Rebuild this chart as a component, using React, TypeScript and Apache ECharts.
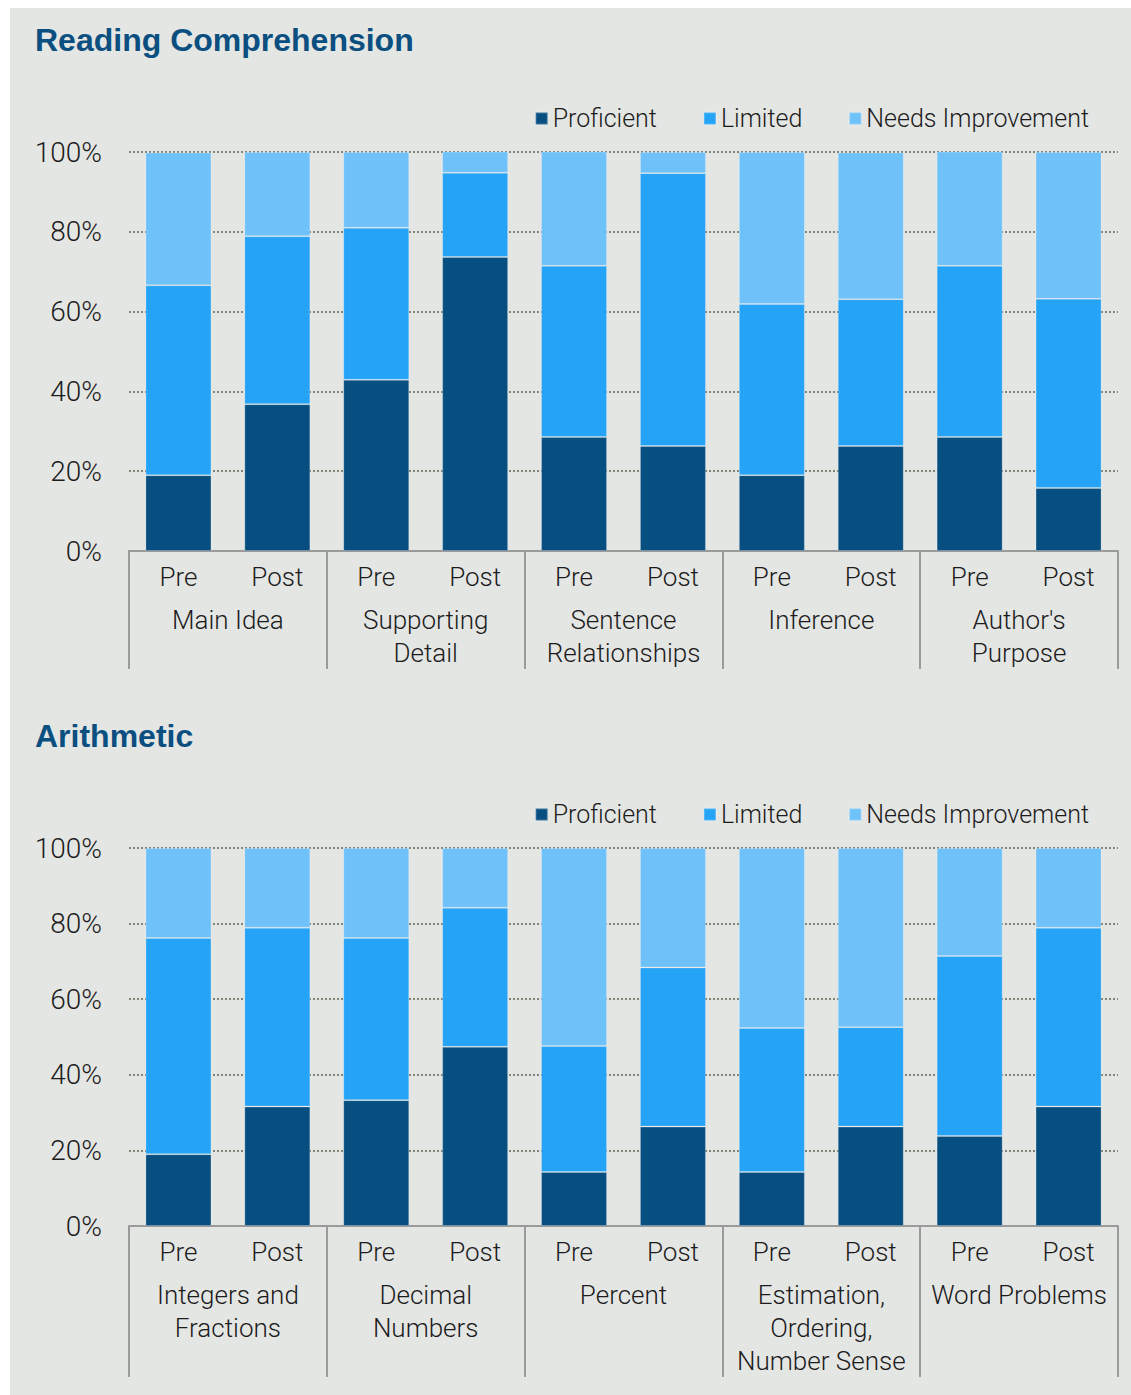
import React, { useEffect, useRef } from "react";
import * as echarts from "echarts";

const phases = ["Pre", "Post", "Pre", "Post", "Pre", "Post", "Pre", "Post", "Pre", "Post"];
const seriesNames = ["Proficient", "Limited", "Needs Improvement"];
const yTicks = [0, 20, 40, 60, 80, 100];

const readingTitle = "Reading Comprehension";
const readingGroups = ["Main Idea", "Supporting\nDetail", "Sentence\nRelationships", "Inference", "Author's\nPurpose"];
const readingProficient = [19.0, 36.8, 42.9, 73.7, 28.6, 26.3, 19.0, 26.3, 28.6, 15.8];
const readingLimited = [47.6, 42.1, 38.1, 21.1, 42.9, 68.4, 42.9, 36.8, 42.9, 47.4];
const readingNeeds = [33.3, 21.1, 19.0, 5.3, 28.6, 5.3, 38.1, 36.8, 28.6, 36.8];

const arithTitle = "Arithmetic";
const arithGroups = ["Integers and\nFractions", "Decimal\nNumbers", "Percent", "Estimation,\nOrdering,\nNumber Sense", "Word Problems"];
const arithProficient = [19.0, 31.6, 33.3, 47.4, 14.3, 26.3, 14.3, 26.3, 23.8, 31.6];
const arithLimited = [57.2, 47.3, 42.9, 36.8, 33.3, 42.1, 38.1, 26.3, 47.6, 47.3];
const arithNeeds = [23.8, 21.1, 23.8, 15.8, 52.4, 31.6, 47.6, 47.4, 28.6, 21.1];

const COLORS = ["#064f80", "#25a3f6", "#6fc1f9"];
const TEXT = "#1c1c1c";
const FONT = "Roboto";

export default function App() {
  const ref = useRef<HTMLDivElement>(null);

  useEffect(() => {
    if (!ref.current) return;
    const chart = echarts.init(ref.current, null, { renderer: "svg" });

    const grids = [
      { left: 119, top: 144, width: 989, height: 399 },
      { left: 119, top: 840, width: 989, height: 378 },
    ];
    const tickLens = [118, 151];
    const groupsList = [readingGroups, arithGroups];
    const dataList = [
      [readingProficient, readingLimited, readingNeeds],
      [arithProficient, arithLimited, arithNeeds],
    ];

    const xAxis: any[] = [];
    const yAxis: any[] = [];
    const series: any[] = [];

    grids.forEach((g, gi) => {
      xAxis.push({
        type: "category",
        gridIndex: gi,
        data: phases,
        position: "bottom",
        axisLine: { show: false },
        axisTick: { show: false },
        axisLabel: {
          interval: 0,
          margin: 12,
          color: TEXT,
          fontFamily: FONT,
          fontWeight: 300,
          fontSize: 26,
          lineHeight: 28,
        },
      });
      xAxis.push({
        type: "category",
        gridIndex: gi,
        data: groupsList[gi],
        position: "bottom",
        axisLine: { show: true, lineStyle: { color: "#9a9a9a", width: 2 } },
        axisTick: { show: true, length: tickLens[gi], lineStyle: { color: "#9a9a9a", width: 2 } },
        axisLabel: {
          interval: 0,
          margin: 52,
          color: TEXT,
          fontFamily: FONT,
          fontWeight: 300,
          fontSize: 26,
          lineHeight: 33,
        },
      });
      yAxis.push({
        type: "value",
        gridIndex: gi,
        min: yTicks[0],
        max: yTicks[yTicks.length - 1],
        interval: 20,
        axisLine: { show: false },
        axisTick: { show: false },
        splitLine: {
          show: true,
          lineStyle: { color: "#7f8675", width: 2, type: [2, 2] },
        },
        axisLabel: {
          margin: 27,
          color: TEXT,
          fontFamily: FONT,
          fontWeight: 300,
          fontSize: 28,
          formatter: "{value}%",
        },
      });
      seriesNames.forEach((name, si) => {
        series.push({
          name,
          type: "bar",
          stack: "s" + gi,
          xAxisIndex: gi * 2,
          yAxisIndex: gi,
          barWidth: 66,
          data: dataList[gi][si],
          itemStyle: {
            color: COLORS[si],
            borderColor: "rgba(255,255,255,0.22)",
            borderWidth: 1,
          },
        });
      });
    });

    const legendCommon = {
      right: 42,
      orient: "horizontal",
      icon: "rect",
      itemWidth: 12,
      itemHeight: 12,
      itemGap: 46,
      padding: 0,
      textStyle: { color: TEXT, fontFamily: FONT, fontWeight: 300, fontSize: 25 },
      data: seriesNames,
    };

    const titleStyle = { color: "#0b4f80", fontFamily: "Liberation Sans", fontWeight: "bold", fontSize: 32 };

    chart.setOption({
      animation: false,
      backgroundColor: "#e4e6e4",
      color: COLORS,
      title: [
        { text: readingTitle, left: 25, top: 16, padding: 0, textStyle: titleStyle },
        { text: arithTitle, left: 25, top: 712, padding: 0, textStyle: titleStyle },
      ],
      legend: [
        { ...legendCommon, top: 98 },
        { ...legendCommon, top: 794 },
      ],
      grid: grids,
      xAxis,
      yAxis,
      series,
    });

    return () => chart.dispose();
  }, []);

  return (
    <div
      ref={ref}
      style={{ position: "absolute", left: 10, top: 8, width: 1121, height: 1387 }}
    />
  );
}
